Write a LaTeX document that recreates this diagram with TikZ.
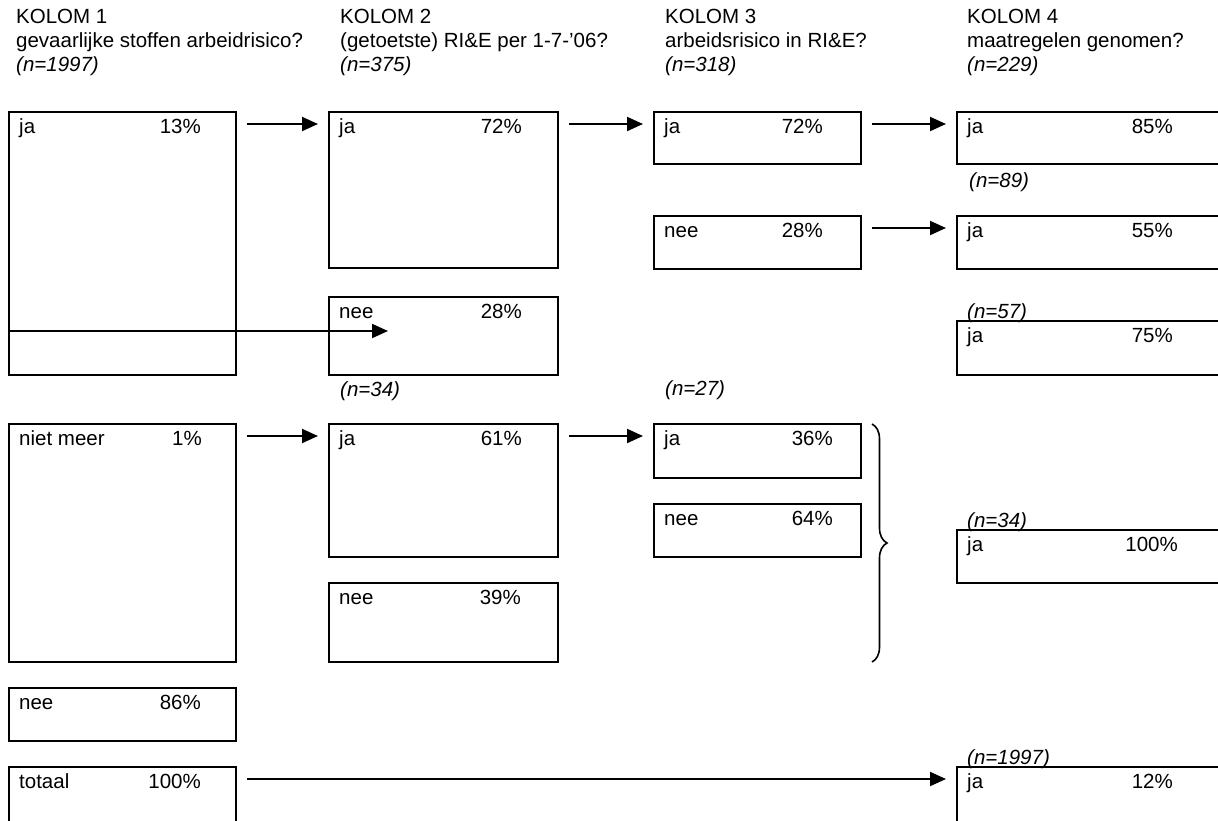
\documentclass[tikz,border=0pt]{standalone}
\usepackage{fontspec}
\setmainfont{Liberation Sans}
\usetikzlibrary{arrows.meta, decorations.pathreplacing}
\newcommand{\tekstfont}{\fontsize{20.5pt}{24pt}\selectfont}
\tikzset{
  vak/.style={draw, line width=2.2pt, anchor=north west, inner sep=0pt, outer sep=0pt},
  antw/.style={anchor=base west, inner sep=0pt},
  pct/.style={anchor=base east, inner sep=0pt},
  kop/.style={anchor=base west, inner sep=0pt},
  aantal/.style={anchor=base west, inner sep=0pt, font=\tekstfont\itshape},
  pijl/.style={-{Triangle[length=16pt, width=14pt]}, line width=2pt},
  accolade/.style={decorate, decoration={brace, amplitude=15pt}, line width=1.6pt},
}

\begin{document}
\begin{tikzpicture}[x=1pt, y=-1pt, font=\tekstfont]
\useasboundingbox (0,0) rectangle (1218,820);
\clip (0,0) rectangle (1218,820);

%% kolomkoppen
\foreach \k/\x/\vraag/\n in {1/16/gevaarlijke stoffen arbeidrisico?/1997,
                             2/340/(getoetste) RI\&E per 1-7-’06?/375,
                             3/665/arbeidsrisico in RI\&E?/318,
                             4/967/maatregelen genomen?/229}{
  \node[kop] (kop\k) at (\x,23.5) {KOLOM \k};
  \node[kop] (vraag\k) at (\x,47.5) {\vraag};
  \node[aantal] (n\k) at (\x,71.5) {(n=\n)};
}

%% vakken: naam / links / boven / rechts / onder / antwoord / percentage / rechterkant percentage
\foreach \naam/\xa/\ya/\xb/\yb/\antw/\pct/\px in {
    k1ja/9/112/236/375/ja/13\%/201,
    k1niet/9/424/236/662/niet meer/1\%/202,
    k1nee/9/688/236/741/nee/86\%/201,
    k1tot/9/767/236/850/totaal/100\%/201,
    k2ja/329/112/558/268/ja/72\%/522,
    k2nee/329/297/558/375/nee/28\%/522,
    k2bja/329/424/558/557/ja/61\%/522,
    k2bnee/329/583/558/662/nee/39\%/521,
    k3ja/654/112/861/164/ja/72\%/823,
    k3nee/654/216/861/269/nee/28\%/823,
    k3bja/654/424/861/478/ja/36\%/833,
    k3bnee/654/504/861/557/nee/64\%/833,
    k4a/957/112/1240/164/ja/85\%/1173,
    k4b/957/216/1240/269/ja/55\%/1173,
    k4c/957/321/1240/375/ja/75\%/1173,
    k4d/957/530/1240/583/ja/100\%/1178,
    k4e/957/767/1240/850/ja/12\%/1173}{
  \node[vak, minimum width={\xb-\xa}, minimum height={\yb-\ya}] (\naam) at (\xa,\ya) {};
  \node[antw] (\naam-a) at ([shift={(10,21)}]\naam.north west) {\antw};
  \node[pct] (\naam-p) at (\px,{\ya+21}) {\pct};
}

%% aantallen bij de vakken
\node[aantal] (n2b) at ([shift={(11,21)}]k2nee.south west) {(n=34)};
\node[aantal] (n3b) at ([shift={(11,-29)}]k3bja.north west) {(n=27)};
\node[aantal] (n4b) at ([shift={(12,23)}]k4a.south west) {(n=89)};
\node[aantal] (n4c) at ([shift={(10,-3)}]k4c.north west) {(n=57)};
\node[aantal] (n4d) at ([shift={(10,-3)}]k4d.north west) {(n=34)};
\node[aantal] (n4e) at ([shift={(10,-3)}]k4e.north west) {(n=1997)};

%% pijlen
\draw[pijl] ([shift={(11,12)}]k1ja.north east) -- ([shift={(-11,12)}]k2ja.north west);
\draw[pijl] ([shift={(11,12)}]k2ja.north east) -- ([shift={(-11,12)}]k3ja.north west);
\draw[pijl] ([shift={(11,12)}]k3ja.north east) -- ([shift={(-11,12)}]k4a.north west);
\draw[pijl] ([shift={(11,12)}]k3nee.north east) -- ([shift={(-11,12)}]k4b.north west);
\draw[pijl] ([shift={(11,12)}]k1niet.north east) -- ([shift={(-11,12)}]k2bja.north west);
\draw[pijl] ([shift={(11,12)}]k2bja.north east) -- ([shift={(-11,12)}]k3bja.north west);
\draw[pijl] ([shift={(11,12)}]k1tot.north east) -- ([shift={(-11,12)}]k4e.north west);

%% pijl door het ja-vak naar nee
\coordinate (neepunt) at ([shift={(59,34)}]k2nee.north west);
\draw[pijl] ([shift={(0,-44)}]k1ja.south west) -- (neepunt);

%% accolade
\coordinate (accboven) at ([xshift=11pt]k3bja.north east);
\coordinate (acconder) at (accboven |- k2bnee.south);
\draw[accolade] (accboven) -- (acconder);

\end{tikzpicture}
\end{document}
